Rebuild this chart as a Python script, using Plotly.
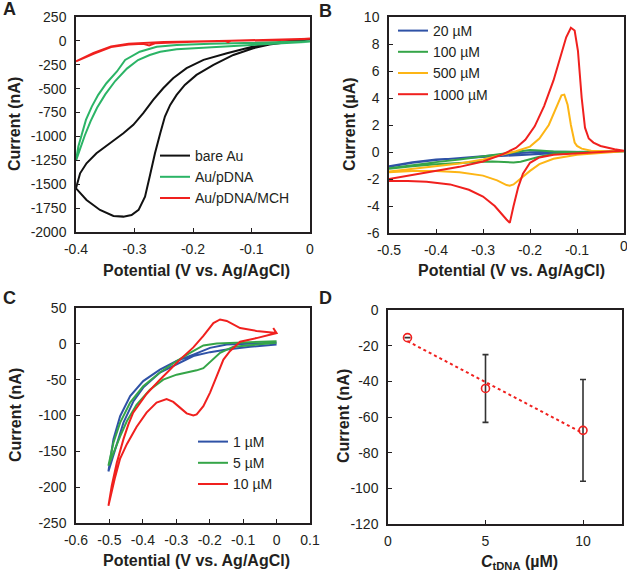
import numpy as np
import plotly.graph_objects as go

# ---------------- data ----------------
# Panel A: CVs in ferricyanide, current in nA
a_bare_v = [0.0, -0.046, -0.097, -0.131, -0.165, -0.194, -0.214, -0.228, -0.239, -0.248, -0.256, -0.265,
            -0.274, -0.282, -0.293, -0.305, -0.319, -0.336, -0.359, -0.382, -0.400,
            -0.393, -0.382, -0.365, -0.342, -0.319, -0.302, -0.285, -0.268, -0.251, -0.234, -0.211,
            -0.182, -0.142, -0.097, -0.046, 0.0]
a_bare_i = [17, -7, -77, -147, -251, -356, -461, -565, -670, -792, -967, -1176,
            -1420, -1630, -1769, -1822, -1839, -1832, -1769, -1665, -1543,
            -1386, -1281, -1176, -1071, -967, -879, -757, -618, -496, -391, -286,
            -199, -129, -59, -17, 17]
a_pdna_v = [0.0, -0.085, -0.142, -0.171, -0.228, -0.256, -0.274, -0.294, -0.313, -0.333, -0.350, -0.364,
            -0.375, -0.385, -0.393, -0.400,
            -0.396, -0.390, -0.383, -0.373, -0.362, -0.348, -0.330, -0.316, -0.291, -0.262, -0.228,
            -0.170, -0.085, 0.0]
a_pdna_i = [-8, -36, -61, -71, -88, -113, -148, -200, -290, -420, -560, -700,
            -840, -990, -1130, -1253,
            -1106, -967, -827, -688, -565, -443, -320, -200, -113, -61, -43,
            -30, -19, -5]
a_mch_v = [0.0, -0.06, -0.10, -0.135, -0.14, -0.145, -0.20, -0.25, -0.265, -0.275, -0.285, -0.31,
           -0.34, -0.37, -0.40,
           -0.37, -0.34, -0.31, -0.28, -0.25, -0.20, -0.15, -0.10, -0.05, 0.0]
a_mch_i = [22, 12, 5, 2, -12, 0, -10, -20, -25, -48, -30, -38,
           -65, -135, -215,
           -125, -58, -30, -18, -12, -6, -2, 2, 10, 22]

# Panel B: CVs of MB at different concentrations, current in uA
b_20_v = [-0.5, -0.45, -0.4, -0.35, -0.3, -0.25, -0.2, -0.15, -0.1, -0.05, 0.0,
          -0.05, -0.1, -0.15, -0.2, -0.25, -0.3, -0.35, -0.4, -0.45, -0.5]
b_20_i = [-1.1, -0.8, -0.6, -0.45, -0.3, -0.15, -0.02, 0.02, 0.0, 0.0, 0.05,
          -0.02, -0.05, -0.1, -0.2, -0.3, -0.38, -0.45, -0.55, -0.75, -1.05]
b_100_v = [-0.5, -0.45, -0.4, -0.35, -0.3, -0.25, -0.22, -0.2, -0.18, -0.15, -0.1, -0.05, 0.0,
           -0.05, -0.1, -0.15, -0.18, -0.2, -0.22, -0.235, -0.25, -0.28, -0.3, -0.35, -0.4, -0.45, -0.5]
b_100_i = [-1.2, -0.95, -0.75, -0.55, -0.35, -0.1, 0.05, 0.15, 0.12, 0.03, 0.0, 0.0, 0.05,
           0.0, -0.05, -0.15, -0.35, -0.55, -0.72, -0.78, -0.75, -0.7, -0.72, -0.8, -0.9, -1.05, -1.25]
b_500_v = [-0.5, -0.45, -0.4, -0.35, -0.3, -0.26, -0.23, -0.2, -0.18, -0.16, -0.15, -0.14, -0.133,
           -0.127, -0.12, -0.113, -0.105, -0.1, -0.09, -0.07, -0.04, 0.0,
           -0.05, -0.1, -0.15, -0.18, -0.2, -0.22, -0.235, -0.243, -0.25, -0.27, -0.3, -0.35,
           -0.4, -0.45, -0.5]
b_500_i = [-1.45, -1.25, -1.05, -0.85, -0.55, -0.2, 0.05, 0.4, 1.0, 2.0, 2.8, 3.6, 4.2,
           4.25, 3.5, 2.0, 0.7, 0.45, 0.25, 0.1, 0.05, 0.05,
           -0.05, -0.2, -0.5, -0.9, -1.4, -2.0, -2.4, -2.5, -2.45, -2.1, -1.75, -1.5,
           -1.4, -1.4, -1.5]
b_1000_v = [-0.5, -0.45, -0.4, -0.35, -0.3, -0.26, -0.23, -0.21, -0.19, -0.17, -0.15, -0.135,
            -0.123, -0.113, -0.105, -0.098, -0.09, -0.083, -0.075, -0.065, -0.05, -0.02, 0.0,
            -0.05, -0.1, -0.15, -0.18, -0.2, -0.215, -0.225, -0.235, -0.243, -0.25, -0.26,
            -0.275, -0.3, -0.33, -0.37, -0.42, -0.46, -0.5]
b_1000_i = [-2.0, -1.7, -1.4, -1.1, -0.7, -0.2, 0.3, 0.9, 1.9, 3.4, 5.3, 7.0,
            8.5, 9.2, 9.0, 7.5, 4.0, 1.8, 1.0, 0.7, 0.45, 0.2, 0.1,
            0.0, -0.1, -0.2, -0.4, -0.8, -1.6, -2.6, -4.0, -5.25, -5.0, -4.6,
            -4.0, -3.3, -2.8, -2.4, -2.2, -2.15, -2.15]

# Panel C: CVs after tDNA hybridisation, current in nA
c_1_v = [0.0, -0.079, -0.149, -0.199, -0.249, -0.299, -0.349, -0.399, -0.428, -0.458, -0.483, -0.503,
         -0.488, -0.468, -0.438, -0.399, -0.349, -0.299, -0.249, -0.199, -0.149, -0.079, 0.0]
c_1_i = [-1, -4, -8, -11.6, -17, -29, -40, -61, -80, -110, -147, -178,
         -133, -101, -73, -52, -36, -24, -15, -5.6, -1, 0.5, 1.4]
c_5_v = [0.0, -0.129, -0.169, -0.199, -0.219, -0.239, -0.269, -0.299, -0.339, -0.379, -0.419, -0.448,
         -0.468, -0.488, -0.503,
         -0.488, -0.468, -0.438, -0.399, -0.349, -0.299, -0.259, -0.219, -0.179, -0.129, -0.05, 0.0]
c_5_i = [1.4, -4, -12.5, -26, -34, -37, -39.5, -43, -50, -64, -85, -108,
         -129, -152, -170,
         -138, -110, -82, -59, -40, -24, -12.5, -2.3, 0.5, 1.4, 2.8, 3.7]
c_10_v = [-0.01, 0.0, -0.06, -0.109, -0.139, -0.159, -0.179, -0.199, -0.219, -0.239, -0.249, -0.269,
          -0.289, -0.309, -0.329, -0.359, -0.389, -0.419, -0.448, -0.468, -0.483, -0.498, -0.503,
          -0.493, -0.478, -0.458, -0.443, -0.429, -0.389, -0.349, -0.289, -0.249, -0.219, -0.189,
          -0.169, -0.149, -0.109, -0.06, -0.02, 0.0]
c_10_i = [22, 15, 8, 3, -10, -22, -45, -68, -87, -98.5, -100, -97,
          -89, -81, -77, -82, -96, -116, -140, -160, -186, -213, -226,
          -198, -166, -133, -112, -96, -70, -50, -22, -5, 11, 29,
          34, 32, 22, 18, 16, 15]

# Panel D: peak current vs tDNA concentration
d_conc = [1, 5, 10]
d_curr = [-15.5, -44.0, -67.5]
d_err = [0.0, 19.0, 28.5]

# ---------------- style ----------------
BLACK = "#111111"; GREEN_A = "#2bb466"; RED = "#f0201e"
BLUE = "#2f52a6"; GREEN = "#35a548"; ORANGE = "#fdb515"
AX = "#231f20"
FONT = "Liberation Sans, Arial, sans-serif"
W, H = 627, 572


def dx(l, r):
    return [l / W, r / W]


def dy(t, b):
    return [1 - b / H, 1 - t / H]


def axis(dom, rng, vals, anchor, standoff):
    return dict(domain=dom, range=rng, tickvals=vals, ticktext=[f"{v:g}" for v in vals],
                anchor=anchor, automargin=False, showgrid=False, zeroline=False,
                showline=True, mirror=True, linecolor=AX, linewidth=1.5,
                ticks="inside", ticklen=4, tickwidth=1.2, tickcolor=AX,
                tickfont=dict(size=14, color=AX, family=FONT), ticklabelstandoff=standoff)


fig = go.Figure()
line = lambda c: dict(color=c, width=2)

fig.add_trace(go.Scatter(x=a_bare_v, y=a_bare_i, mode="lines", name="bare Au", line=line(BLACK),
                         xaxis="x", yaxis="y", legend="legend"))
fig.add_trace(go.Scatter(x=a_pdna_v, y=a_pdna_i, mode="lines", name="Au/pDNA", line=line(GREEN_A),
                         xaxis="x", yaxis="y", legend="legend"))
fig.add_trace(go.Scatter(x=a_mch_v, y=a_mch_i, mode="lines", name="Au/pDNA/MCH", line=line(RED),
                         xaxis="x", yaxis="y", legend="legend"))

for v, i, n, c in [(b_20_v, b_20_i, "20 µM", BLUE), (b_100_v, b_100_i, "100 µM", GREEN),
                   (b_500_v, b_500_i, "500 µM", ORANGE), (b_1000_v, b_1000_i, "1000 µM", RED)]:
    fig.add_trace(go.Scatter(x=v, y=i, mode="lines", name=n, line=line(c),
                             xaxis="x2", yaxis="y2", legend="legend2"))

for v, i, n, c in [(c_1_v, c_1_i, "1 µM", BLUE), (c_5_v, c_5_i, "5 µM", GREEN),
                   (c_10_v, c_10_i, "10 µM", RED)]:
    fig.add_trace(go.Scatter(x=v, y=i, mode="lines", name=n, line=line(c),
                             xaxis="x3", yaxis="y3", legend="legend3"))

# trend line through D points
slope, icpt = np.polyfit(d_conc, d_curr, 1)
tx = np.array([d_conc[0], d_conc[-1]])
fig.add_trace(go.Scatter(x=tx, y=slope * tx + icpt, mode="lines", showlegend=False,
                         line=dict(color=RED, width=2, dash="dot"), xaxis="x4", yaxis="y4"))
fig.add_trace(go.Scatter(x=d_conc, y=d_curr, mode="markers", showlegend=False,
                         marker=dict(symbol="circle-open", size=8, color=RED, line=dict(width=1.6)),
                         error_y=dict(type="data", array=d_err, color="#333333", thickness=1.6, width=3),
                         xaxis="x4", yaxis="y4"))

leg = dict(font=dict(size=14, color=AX, family=FONT), bgcolor="rgba(0,0,0,0)",
           xanchor="left", yanchor="top", itemwidth=30, tracegroupgap=0)

fig.update_layout(
    width=W, height=H, margin=dict(l=0, r=0, t=0, b=0, autoexpand=False),
    paper_bgcolor="white", plot_bgcolor="white",
    font=dict(family=FONT, color=AX),
    xaxis=axis(dx(76, 310), [-0.4, 0], [-0.4, -0.3, -0.2, -0.1, 0], "y", 3),
    yaxis=axis(dy(17, 232), [-2000, 250], [250, 0, -250, -500, -750, -1000, -1250, -1500, -1750, -2000], "x", 5),
    xaxis2=axis(dx(389, 624), [-0.5, 0], [-0.5, -0.4, -0.3, -0.2, -0.1], "y2", 3),
    yaxis2=axis(dy(17, 233), [-6, 10], [10, 8, 6, 4, 2, 0, -2, -4, -6], "x2", 5),
    xaxis3=axis(dx(76, 310), [-0.6, 0.1], [-0.6, -0.5, -0.4, -0.3, -0.2, -0.1, 0, 0.1], "y3", 3),
    yaxis3=axis(dy(308, 523), [-250, 50], [50, 0, -50, -100, -150, -200, -250], "x3", 5),
    xaxis4=axis(dx(388, 622), [0, 12], [0, 5, 10], "y4", 3),
    yaxis4=axis(dy(310, 524), [-120, 0], [0, -20, -40, -60, -80, -100, -120], "x4", 5),
    legend=dict(leg, x=155 / W, y=1 - 140 / H),
    legend2=dict(leg, x=393 / W, y=1 - 15 / H),
    legend3=dict(leg, x=193 / W, y=1 - 426 / H),
)

# B's last tick label sits on the page edge (plotly would drop it)
fig.add_annotation(text="0", x=0, y=-6, xref="x2", yref="y2", showarrow=False,
                   xanchor="center", yanchor="top", yshift=-3, font=dict(size=14, color=AX, family=FONT))

# panel letters and axis titles
notes = [("<b>A</b>", 9, 9, 18, 0), ("<b>B</b>", 325, 11, 18, 0),
         ("<b>C</b>", 9, 298, 18, 0), ("<b>D</b>", 325, 298, 18, 0),
         ("<b>Potential (V vs. Ag/AgCl)</b>", 196, 270, 16, 0),
         ("<b>Potential (V vs. Ag/AgCl)</b>", 511, 270, 16, 0),
         ("<b>Potential (V vs. Ag/AgCl)</b>", 196, 560, 16, 0),
         ("<b><i>C</i><sub>tDNA</sub> (µM)</b>", 519, 562, 16, 0),
         ("<b>Current (nA)</b>", 15, 124, 16, -90),
         ("<b>Current (µA)</b>", 350, 124, 16, -90),
         ("<b>Current (nA)</b>", 15, 415, 16, -90),
         ("<b>Current (nA)</b>", 343, 416, 16, -90)]
for txt, x, y, s, ang in notes:
    fig.add_annotation(text=txt, x=x / W, y=1 - y / H, xref="paper", yref="paper",
                       showarrow=False, textangle=ang, xanchor="center", yanchor="middle",
                       font=dict(size=s, color=AX, family=FONT))

# drop the page's default body margin so the figure sits at the window origin
fig.write_html("out.html", post_script="document.body.style.margin='0';",
               config={"displayModeBar": False})
